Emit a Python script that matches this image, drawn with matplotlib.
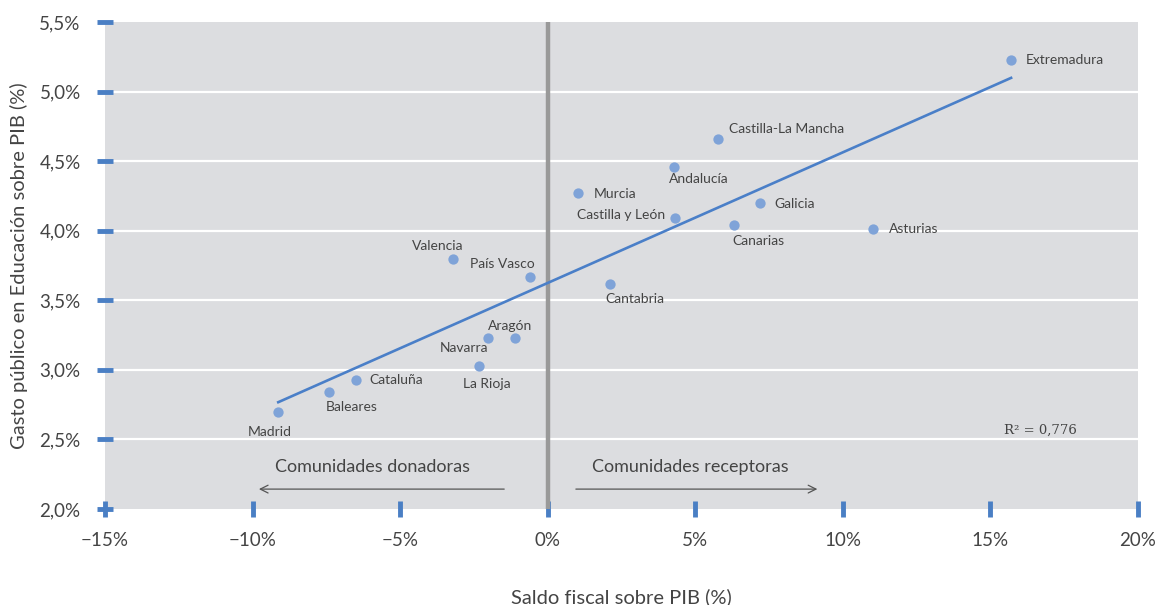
import matplotlib
matplotlib.use("Agg")
import matplotlib.pyplot as plt
import numpy as np

plt.rcParams['font.family'] = ['Lato', 'DejaVu Sans']

# data
regiones = ['Madrid', 'Baleares', 'Cataluña', 'La Rioja', 'Navarra', 'Aragón',
            'Valencia', 'País Vasco', 'Cantabria', 'Murcia', 'Castilla y León',
            'Andalucía', 'Castilla-La Mancha', 'Canarias', 'Galicia', 'Asturias',
            'Extremadura']
saldo_fiscal = [-9.13, -7.41, -6.50, -2.32, -2.02, -1.10,
                -3.21, -0.60, 2.11, 1.03, 4.32,
                4.29, 5.78, 6.31, 7.20, 11.03,
                15.70]
gasto_educ = [2.70, 2.84, 2.93, 3.03, 3.23, 3.23,
              3.80, 3.67, 3.62, 4.27, 4.09,
              4.46, 4.66, 4.04, 4.20, 4.01,
              5.23]
x_ticks = [-15, -10, -5, 0, 5, 10, 15, 20]
y_ticks = [2.0, 2.5, 3.0, 3.5, 4.0, 4.5, 5.0, 5.5]
r2_text = 'R² = 0,776'

# label offsets in pixels (dx, dy, ha)
offs = {
    'Madrid': (-8, -20, 'center'),
    'Baleares': (23, -15, 'center'),
    'Cataluña': (14, 0, 'left'),
    'La Rioja': (8, -18, 'center'),
    'Navarra': (-24, -10, 'center'),
    'Aragón': (-5, 12, 'center'),
    'Valencia': (-15, 13, 'center'),
    'País Vasco': (-28, 13, 'center'),
    'Cantabria': (25, -15, 'center'),
    'Murcia': (16, -1, 'left'),
    'Castilla y León': (-10, 3, 'right'),
    'Andalucía': (24, -12, 'center'),
    'Castilla-La Mancha': (11, 10, 'left'),
    'Canarias': (24, -16, 'center'),
    'Galicia': (14, -1, 'left'),
    'Asturias': (16, 0, 'left'),
    'Extremadura': (15, 0, 'left'),
}

tick_blue = '#4a7fc4'
txt = '#444444'

fig = plt.figure(figsize=(11.55, 6.05), dpi=100)
ax = fig.add_axes([105/1155, 1-509/605, 1033/1155, 487/605])
ax.set_facecolor('#dcdde0')
for s in ax.spines.values():
    s.set_visible(False)

ax.set_xlim(-15, 20)
ax.set_ylim(2.0, 5.5)

for yv in y_ticks[1:-1]:
    ax.axhline(yv, color='white', lw=1.6, zorder=1)
ax.axvline(0, color='#999999', lw=3.2, zorder=2)

# trend line
b, a = np.polyfit(saldo_fiscal, gasto_educ, 1)
xs = np.array([min(saldo_fiscal), max(saldo_fiscal)])
ax.plot(xs, a + b * xs, color='#4a7fc8', lw=1.9, zorder=3)

ax.scatter(saldo_fiscal, gasto_educ, s=55, color='#7fa3d8', zorder=4, linewidths=0)

for name, xv, yv in zip(regiones, saldo_fiscal, gasto_educ):
    dx, dy, ha = offs[name]
    ax.annotate(name, (xv, yv), xytext=(dx, dy), textcoords='offset pixels',
                ha=ha, va='center', fontsize=10, color=txt, zorder=5)

# arrows
ax.annotate('', xy=(-9.88, 2.143), xytext=(-1.38, 2.143),
            arrowprops=dict(arrowstyle='->', color='#555555', lw=0.9, mutation_scale=14))
ax.annotate('', xy=(9.23, 2.143), xytext=(0.86, 2.143),
            arrowprops=dict(arrowstyle='->', color='#555555', lw=0.9, mutation_scale=14))
ax.text(-5.92, 2.30, 'Comunidades donadoras', ha='center', va='center',
        fontsize=13, color=txt)
ax.text(4.83, 2.30, 'Comunidades receptoras', ha='center', va='center',
        fontsize=13, color=txt)
ax.text(16.69, 2.567, r2_text, ha='center', va='center', fontsize=9.5,
        color=txt, family=['DejaVu Serif'])

ax.set_xticks(x_ticks)
ax.set_xticklabels([('−%d%%' % -v) if v < 0 else '%d%%' % v for v in x_ticks])
ax.set_yticks(y_ticks)
ax.set_yticklabels([('%.1f%%' % v).replace('.', ',') for v in y_ticks])
ax.tick_params(axis='both', direction='inout', length=11, width=3.5,
               color=tick_blue, labelsize=13.5, labelcolor=txt)
ax.tick_params(axis='y', pad=12)
ax.tick_params(axis='x', pad=11)
for t in ax.xaxis.get_major_ticks() + ax.yaxis.get_major_ticks():
    t.tick1line.set_clip_on(False)

ax.set_xlabel('Saldo fiscal sobre PIB (%)', fontsize=14.5, color=txt, labelpad=28)
ax.set_ylabel('Gasto público en Educación sobre PIB (%)', fontsize=14.5,
              color=txt, labelpad=8)

fig.savefig('out.png', dpi=100)
